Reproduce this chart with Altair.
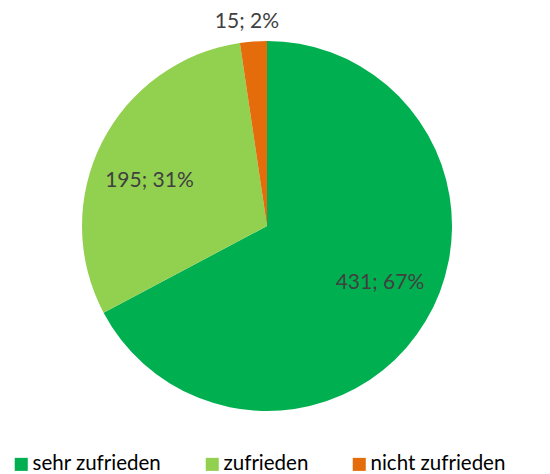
import altair as alt
import pandas as pd

categories = ["sehr zufrieden", "zufrieden", "nicht zufrieden"]
values = [431, 195, 15]
percents = ["67%", "31%", "2%"]
colors = ["#00B050", "#92D050", "#E46C0A"]

df = pd.DataFrame({"cat": categories, "value": values, "pct": percents,
                   "order": list(range(len(categories)))})

FONT = "Lato"

base = alt.Chart(df).transform_calculate(
    label="datum.value + '; ' + datum.pct"
).encode(
    theta=alt.Theta("value:Q", stack=True),
    order=alt.Order("order:Q"),
)

pie = base.mark_arc(outerRadius=185).encode(
    color=alt.Color(
        "cat:N",
        scale=alt.Scale(domain=categories, range=colors),
        sort=categories,
        legend=alt.Legend(
            title=None, orient="none", direction="horizontal",
            legendX=3, legendY=446, symbolType="square", symbolSize=170,
            symbolStrokeWidth=0, labelFont=FONT, labelFontSize=20.5,
            labelColor="#000000", columnPadding=40, labelOffset=1,
            padding=0, symbolOpacity=1,
        ),
    )
)


def label_layer(name, radius, dx, dy):
    return base.mark_text(radius=radius, dx=dx, dy=dy, font=FONT, fontSize=21,
                          color="#404040").encode(
        text=alt.condition(f"datum.cat == '{name}'", "label:N", alt.value(""))
    )


lab1 = label_layer(categories[0], 126, 5, -8)
lab2 = label_layer(categories[1], 125, -6, 11)
lab3 = label_layer(categories[2], 205, -5, 0)

chart = alt.layer(pie, lab1, lab2, lab3).properties(
    width=518, height=436, padding=0
).configure_view(stroke=None)

chart.save("out.html", embed_options={"renderer": "svg", "actions": False})
